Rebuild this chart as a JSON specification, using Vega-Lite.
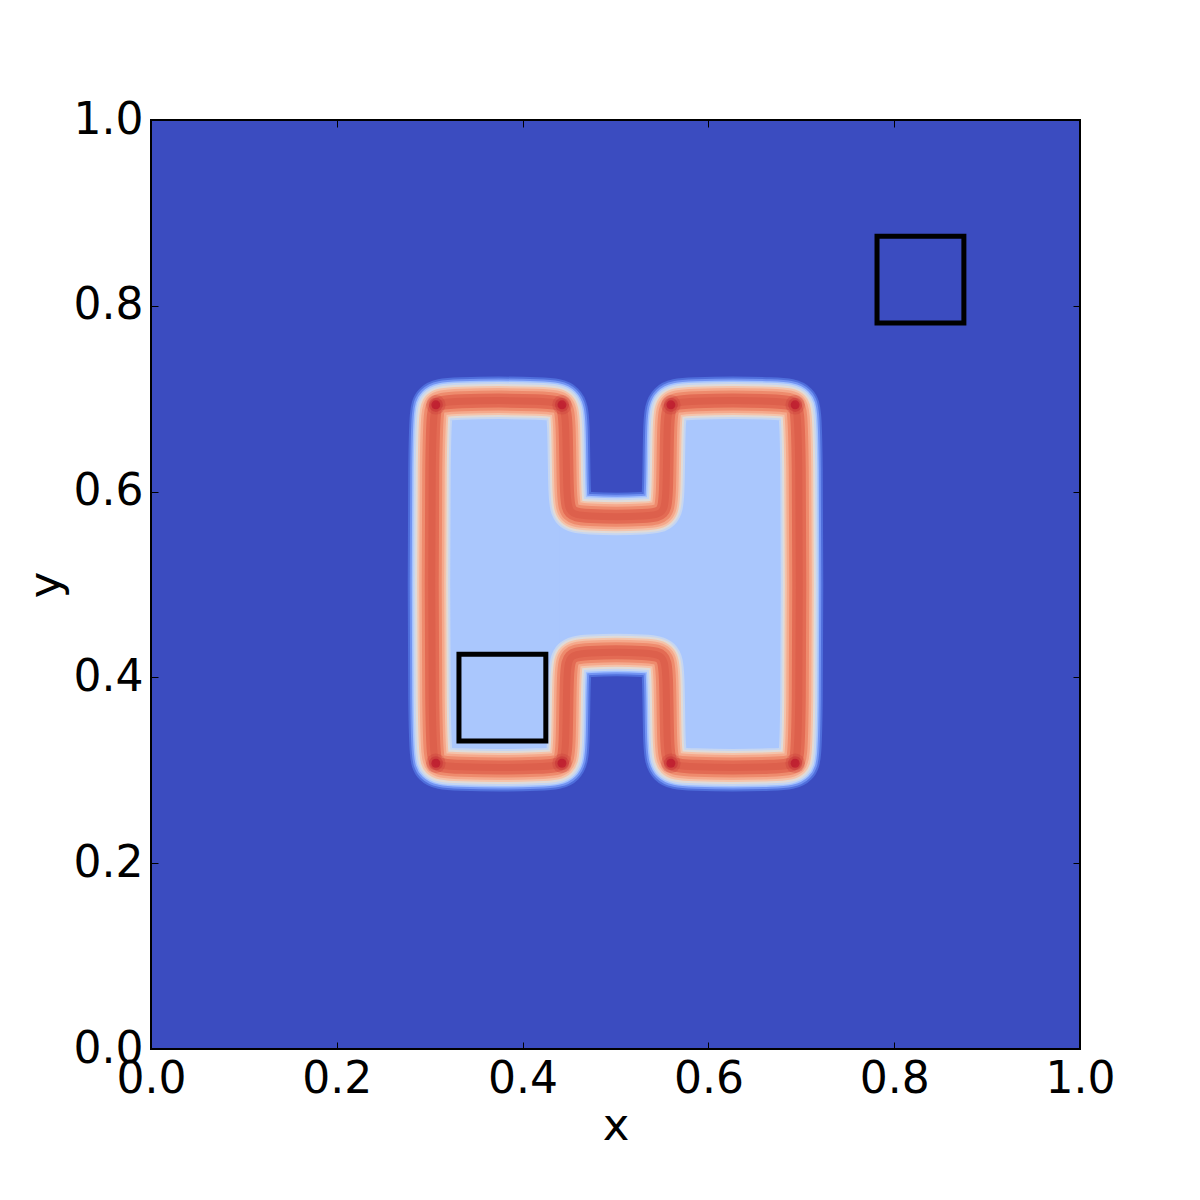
{
  "$schema": "https://vega.github.io/schema/vega-lite/v6.json",
  "width": 929,
  "height": 929,
  "autosize": "none",
  "padding": {"left": 151, "top": 120, "right": 120, "bottom": 151},
  "background": "white",
  "config": {
    "view": {"fill": "#3b4cc0", "stroke": "black", "strokeWidth": 2},
    "font": "DejaVu Sans",
    "line": {"strokeJoin": "round", "strokeCap": "round", "interpolate": "basis-closed"}
  },
  "datasets": {
    "outline": [
      {"i": 0, "x": 0.302, "y": 0.683},
      {"i": 1, "x": 0.3064, "y": 0.6936},
      {"i": 2, "x": 0.317, "y": 0.698},
      {"i": 3, "x": 0.432, "y": 0.698},
      {"i": 4, "x": 0.4426, "y": 0.6936},
      {"i": 5, "x": 0.447, "y": 0.683},
      {"i": 6, "x": 0.447, "y": 0.588},
      {"i": 7, "x": 0.4514, "y": 0.5774},
      {"i": 8, "x": 0.462, "y": 0.573},
      {"i": 9, "x": 0.54, "y": 0.573},
      {"i": 10, "x": 0.5506, "y": 0.5774},
      {"i": 11, "x": 0.555, "y": 0.588},
      {"i": 12, "x": 0.555, "y": 0.683},
      {"i": 13, "x": 0.5594, "y": 0.6936},
      {"i": 14, "x": 0.57, "y": 0.698},
      {"i": 15, "x": 0.683, "y": 0.698},
      {"i": 16, "x": 0.6936, "y": 0.6936},
      {"i": 17, "x": 0.698, "y": 0.683},
      {"i": 18, "x": 0.698, "y": 0.318},
      {"i": 19, "x": 0.6936, "y": 0.3074},
      {"i": 20, "x": 0.683, "y": 0.303},
      {"i": 21, "x": 0.57, "y": 0.303},
      {"i": 22, "x": 0.5594, "y": 0.3074},
      {"i": 23, "x": 0.555, "y": 0.318},
      {"i": 24, "x": 0.555, "y": 0.412},
      {"i": 25, "x": 0.5506, "y": 0.4226},
      {"i": 26, "x": 0.54, "y": 0.427},
      {"i": 27, "x": 0.462, "y": 0.427},
      {"i": 28, "x": 0.4514, "y": 0.4226},
      {"i": 29, "x": 0.447, "y": 0.412},
      {"i": 30, "x": 0.447, "y": 0.318},
      {"i": 31, "x": 0.4426, "y": 0.3074},
      {"i": 32, "x": 0.432, "y": 0.303},
      {"i": 33, "x": 0.317, "y": 0.303},
      {"i": 34, "x": 0.3064, "y": 0.3074},
      {"i": 35, "x": 0.302, "y": 0.318}
    ],
    "interior": [
      {"x": 0.302, "x2": 0.452, "y": 0.303, "y2": 0.698},
      {"x": 0.55, "x2": 0.698, "y": 0.303, "y2": 0.698},
      {"x": 0.44, "x2": 0.56, "y": 0.427, "y2": 0.573}
    ],
    "corners": [
      {"x": 0.3066, "y": 0.6934},
      {"x": 0.4424, "y": 0.6934},
      {"x": 0.5596, "y": 0.6934},
      {"x": 0.6934, "y": 0.6934},
      {"x": 0.6934, "y": 0.3076},
      {"x": 0.5596, "y": 0.3076},
      {"x": 0.4424, "y": 0.3076},
      {"x": 0.3066, "y": 0.3076}
    ],
    "boxes": [
      {"x": 0.7815, "x2": 0.875, "y": 0.7815, "y2": 0.875},
      {"x": 0.3315, "x2": 0.425, "y": 0.3315, "y2": 0.425}
    ]
  },
  "resolve": {"axis": {"x": "independent", "y": "independent"}},
  "layer": [
    {
      "data": {"name": "outline"},
      "mark": {"type": "line", "strokeWidth": 48, "color": "#4f6edb"},
      "encoding": {
        "x": {"field": "x", "type": "quantitative", "scale": {"domain": [0, 1], "nice": false, "zero": false},
          "axis": {"orient": "top", "values": [0, 0.2, 0.4, 0.6, 0.8, 1.0], "labels": false, "domain": false, "grid": false, "ticks": true, "tickSize": -7, "tickColor": "black", "tickWidth": 1, "title": null}},
        "y": {"field": "y", "type": "quantitative", "scale": {"domain": [0, 1], "nice": false, "zero": false},
          "axis": {"orient": "right", "values": [0, 0.2, 0.4, 0.6, 0.8, 1.0], "labels": false, "domain": false, "grid": false, "ticks": true, "tickSize": -7, "tickColor": "black", "tickWidth": 1, "title": null}},
        "order": {"field": "i", "type": "quantitative"}
      }
    },
    {
      "data": {"name": "outline"},
      "mark": {"type": "line", "strokeWidth": 44, "color": "#7394f2"},
      "encoding": {
        "x": {"field": "x", "type": "quantitative", "axis": null},
        "y": {"field": "y", "type": "quantitative", "axis": null},
        "order": {"field": "i", "type": "quantitative"}
      }
    },
    {
      "data": {"name": "outline"},
      "mark": {"type": "line", "strokeWidth": 40, "color": "#a2c1ff"},
      "encoding": {
        "x": {"field": "x", "type": "quantitative", "axis": null},
        "y": {"field": "y", "type": "quantitative", "axis": null},
        "order": {"field": "i", "type": "quantitative"}
      }
    },
    {
      "data": {"name": "interior"},
      "mark": {"type": "rect", "color": "#aac7fd"},
      "encoding": {
        "x": {"field": "x", "type": "quantitative", "axis": null},
        "x2": {"field": "x2"},
        "y": {"field": "y", "type": "quantitative", "axis": null},
        "y2": {"field": "y2"}
      }
    },
    {
      "data": {"name": "outline"},
      "mark": {"type": "line", "strokeWidth": 37, "color": "#c6d6f1"},
      "encoding": {
        "x": {"field": "x", "type": "quantitative", "axis": null},
        "y": {"field": "y", "type": "quantitative", "axis": null},
        "order": {"field": "i", "type": "quantitative"}
      }
    },
    {
      "data": {"name": "outline"},
      "mark": {"type": "line", "strokeWidth": 33, "color": "#e0dbd8"},
      "encoding": {
        "x": {"field": "x", "type": "quantitative", "axis": null},
        "y": {"field": "y", "type": "quantitative", "axis": null},
        "order": {"field": "i", "type": "quantitative"}
      }
    },
    {
      "data": {"name": "outline"},
      "mark": {"type": "line", "strokeWidth": 29, "color": "#f4c4ab"},
      "encoding": {
        "x": {"field": "x", "type": "quantitative", "axis": null},
        "y": {"field": "y", "type": "quantitative", "axis": null},
        "order": {"field": "i", "type": "quantitative"}
      }
    },
    {
      "data": {"name": "outline"},
      "mark": {"type": "line", "strokeWidth": 25, "color": "#f5a98c"},
      "encoding": {
        "x": {"field": "x", "type": "quantitative", "axis": null},
        "y": {"field": "y", "type": "quantitative", "axis": null},
        "order": {"field": "i", "type": "quantitative"}
      }
    },
    {
      "data": {"name": "outline"},
      "mark": {"type": "line", "strokeWidth": 20, "color": "#ee8b6d"},
      "encoding": {
        "x": {"field": "x", "type": "quantitative", "axis": null},
        "y": {"field": "y", "type": "quantitative", "axis": null},
        "order": {"field": "i", "type": "quantitative"}
      }
    },
    {
      "data": {"name": "outline"},
      "mark": {"type": "line", "strokeWidth": 14, "color": "#e36b54"},
      "encoding": {
        "x": {"field": "x", "type": "quantitative", "axis": null},
        "y": {"field": "y", "type": "quantitative", "axis": null},
        "order": {"field": "i", "type": "quantitative"}
      }
    },
    {
      "data": {"name": "outline"},
      "mark": {"type": "line", "strokeWidth": 7, "color": "#dd604c"},
      "encoding": {
        "x": {"field": "x", "type": "quantitative", "axis": null},
        "y": {"field": "y", "type": "quantitative", "axis": null},
        "order": {"field": "i", "type": "quantitative"}
      }
    },
    {
      "data": {"name": "corners"},
      "mark": {"type": "circle", "size": 380, "color": "#c42e33", "opacity": 0.25},
      "encoding": {
        "x": {"field": "x", "type": "quantitative", "axis": null},
        "y": {"field": "y", "type": "quantitative", "axis": null}
      }
    },
    {
      "data": {"name": "corners"},
      "mark": {"type": "circle", "size": 200, "color": "#bd1f2d", "opacity": 0.35},
      "encoding": {
        "x": {"field": "x", "type": "quantitative", "axis": null},
        "y": {"field": "y", "type": "quantitative", "axis": null}
      }
    },
    {
      "data": {"name": "corners"},
      "mark": {"type": "circle", "size": 80, "color": "#b40426", "opacity": 0.5},
      "encoding": {
        "x": {"field": "x", "type": "quantitative", "axis": null},
        "y": {"field": "y", "type": "quantitative", "axis": null}
      }
    },
    {
      "data": {"name": "boxes"},
      "mark": {"type": "rect", "fill": null, "fillOpacity": 0, "stroke": "black", "strokeWidth": 5},
      "encoding": {
        "x": {"field": "x", "type": "quantitative",
          "axis": {"orient": "bottom", "values": [0, 0.2, 0.4, 0.6, 0.8, 1.0], "format": ".1f", "domain": false, "grid": false, "tickSize": -7, "tickColor": "black", "tickWidth": 1, "labelPadding": 15, "labelFlush": false, "labelOverlap": false, "labelFontSize": 44, "labelColor": "black", "labelFont": "DejaVu Sans", "title": "x", "titleFontSize": 45, "titleFontWeight": "normal", "titleColor": "black", "titleFont": "DejaVu Sans", "titlePadding": 2}},
        "x2": {"field": "x2"},
        "y": {"field": "y", "type": "quantitative",
          "axis": {"orient": "left", "values": [0, 0.2, 0.4, 0.6, 0.8, 1.0], "format": ".1f", "domain": false, "grid": false, "tickSize": -7, "tickColor": "black", "tickWidth": 1, "labelPadding": 15, "labelFlush": false, "labelOverlap": false, "labelFontSize": 44, "labelColor": "black", "labelFont": "DejaVu Sans", "title": "y", "titleFontSize": 45, "titleFontWeight": "normal", "titleColor": "black", "titleFont": "DejaVu Sans", "titlePadding": 5}},
        "y2": {"field": "y2"}
      }
    }
  ]
}
